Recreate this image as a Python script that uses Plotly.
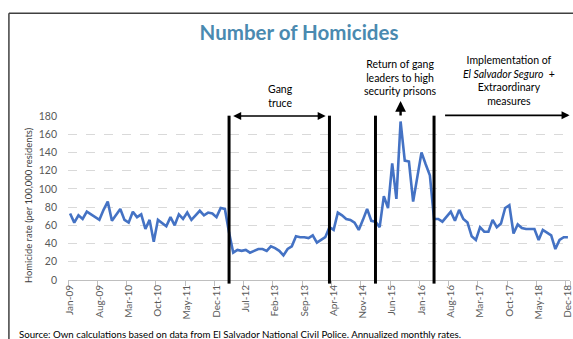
import pandas as pd
import plotly.graph_objects as go

# Monthly categories, Jan-09 .. Dec-18
months = [d.strftime("%b-%y") for d in pd.date_range("2009-01-01", "2018-12-01", freq="MS")]

# Annualized homicide rate per 100,000 residents
rate = [
    73, 63, 71, 67, 75, 72, 69, 66, 77, 86, 65, 71,   # 2009
    78, 66, 63, 75, 69, 72, 56, 66, 42, 66, 62, 59,   # 2010
    69, 60, 72, 67, 74, 66, 71, 76, 71, 74, 73, 69,   # 2011
    79, 78, 52, 30, 33, 32, 33, 30, 32, 34, 34, 32,   # 2012
    37, 35, 32, 27, 34, 37, 48, 47, 47, 46, 49, 41,   # 2013
    44, 47, 58, 55, 74, 71, 67, 66, 63, 55, 66, 78,   # 2014
    65, 64, 58, 92, 79, 128, 89, 174, 131, 130, 86, 112,  # 2015
    140, 127, 115, 67, 67, 64, 70, 75, 65, 77, 67, 63,    # 2016
    48, 44, 58, 53, 53, 66, 58, 62, 79, 82, 51, 61,   # 2017
    57, 56, 56, 56, 44, 55, 52, 49, 34, 44, 47, 47,   # 2018
]

tick_labels = ["Jan-09", "Aug-09", "Mar-10", "Oct-10", "May-11", "Dec-11", "Jul-12",
               "Feb-13", "Sep-13", "Apr-14", "Nov-14", "Jun-15", "Jan-16", "Aug-16",
               "Mar-17", "Oct-17", "May-18", "Dec-18"]

# Policy milestones marked with vertical bars
event_months = ["Mar-12", "Mar-14", "Feb-15", "Apr-16"]

FONT = "Lato"
idx = {m: i for i, m in enumerate(months)}

fig = go.Figure()
fig.add_trace(go.Scatter(
    x=months, y=rate, mode="lines",
    line=dict(color="#4472C4", width=2.6),
    hoverinfo="skip", showlegend=False,
))

shapes = []
for m in event_months:
    shapes.append(dict(type="line", xref="x", yref="paper",
                       x0=idx[m], x1=idx[m], y0=-0.022, y1=1.002,
                       line=dict(color="black", width=3)))

# Frame along the top and left edges
shapes.append(dict(type="line", xref="paper", yref="paper", x0=-0.1177, x1=1.05,
                   y0=1.627, y1=1.627, line=dict(color="#404040", width=1.5)))
shapes.append(dict(type="line", xref="paper", yref="paper", x0=-0.1177, x1=-0.1177,
                   y0=1.627, y1=-0.42, line=dict(color="#404040", width=1.5)))

ann_font = dict(family=FONT, size=10.5, color="#000000")
arrow = dict(text="", showarrow=True, arrowcolor="black", standoff=0,
             axref="pixel", ayref="pixel", xref="x", yref="paper")
annotations = [
    # Gang truce double arrow
    dict(arrow, x=idx["Mar-12"] + 23.1, y=1.0, ax=-94, ay=0,
         arrowhead=2, startarrowhead=2, arrowside="end+start", arrowsize=1,
         arrowwidth=1.6, startstandoff=0),
    # Return of gang leaders: upward arrow
    dict(arrow, x=idx["Aug-15"], y=1.092, ax=0, ay=16,
         arrowhead=2, arrowsize=0.9, arrowwidth=2.4),
    # El Salvador Seguro: right arrow
    dict(arrow, x=119.4, y=1.004, ax=-126, ay=0,
         arrowhead=2, arrowsize=1, arrowwidth=1.6),
    dict(x=idx["Mar-12"] + 12.2, y=1.121, xref="x", yref="paper", showarrow=False,
         xanchor="center", yanchor="middle",
         text="Gang<br>truce", font=ann_font, align="center"),
    dict(x=idx["Aug-15"] - 0.1, y=1.2355, xref="x", yref="paper", showarrow=False,
         xanchor="center", yanchor="middle",
         text="Return of gang<br>leaders to high<br>security prisons",
         font=ann_font, align="center"),
    dict(x=104.8, y=1.219, xref="x", yref="paper", showarrow=False,
         xanchor="center", yanchor="middle",
         text="Implementation of<br><i>El Salvador Seguro</i>  +<br>Extraordinary<br>measures",
         font=ann_font, align="center"),
    dict(x=-0.08, y=0.456, xref="paper", yref="paper", showarrow=False,
         xanchor="center", yanchor="middle",
         text="Homicide rate (per 100,000 residents)", textangle=-90,
         font=dict(family=FONT, size=9.4, color="#404040")),
    dict(x=-0.102, y=-0.329, xref="paper", yref="paper", showarrow=False,
         xanchor="left", yanchor="middle",
         text="Source: Own calculations based on data from El Salvador National Civil Police. Annualized monthly rates.",
         font=dict(family=FONT, size=9.7, color="#000000")),
]

fig.update_layout(
    width=573, height=339,
    margin=dict(l=67.5, r=0, t=115.7, b=59.3),
    paper_bgcolor="white", plot_bgcolor="white",
    title=dict(text="<b>Number of Homicides</b>", x=299 / 573, y=1 - 33 / 339,
               xanchor="center", yanchor="middle", xref="container", yref="container",
               font=dict(family=FONT, size=20.5, color="#4A8AB0")),
    shapes=shapes,
    annotations=annotations,
    xaxis=dict(
        type="category", categoryorder="array", categoryarray=months,
        range=[-0.5, 119.5],
        tickmode="array", tickvals=tick_labels, ticktext=tick_labels,
        tickson="boundaries", tickangle=-90,
        ticks="outside", ticklen=5, tickcolor="#BFBFBF",
        showline=True, linecolor="#BFBFBF", linewidth=1,
        showgrid=False, zeroline=False,
        tickfont=dict(family=FONT, size=10, color="#595959"),
    ),
    yaxis=dict(
        range=[0, 180], dtick=20, tick0=0,
        showgrid=True, gridcolor="#D9D9D9", griddash="dash", gridwidth=1,
        zeroline=False, showline=False, ticks="",
        tickfont=dict(family=FONT, size=10.5, color="#595959"),
        ticklabelstandoff=10,
    ),
)

fig.write_html("out.html")
